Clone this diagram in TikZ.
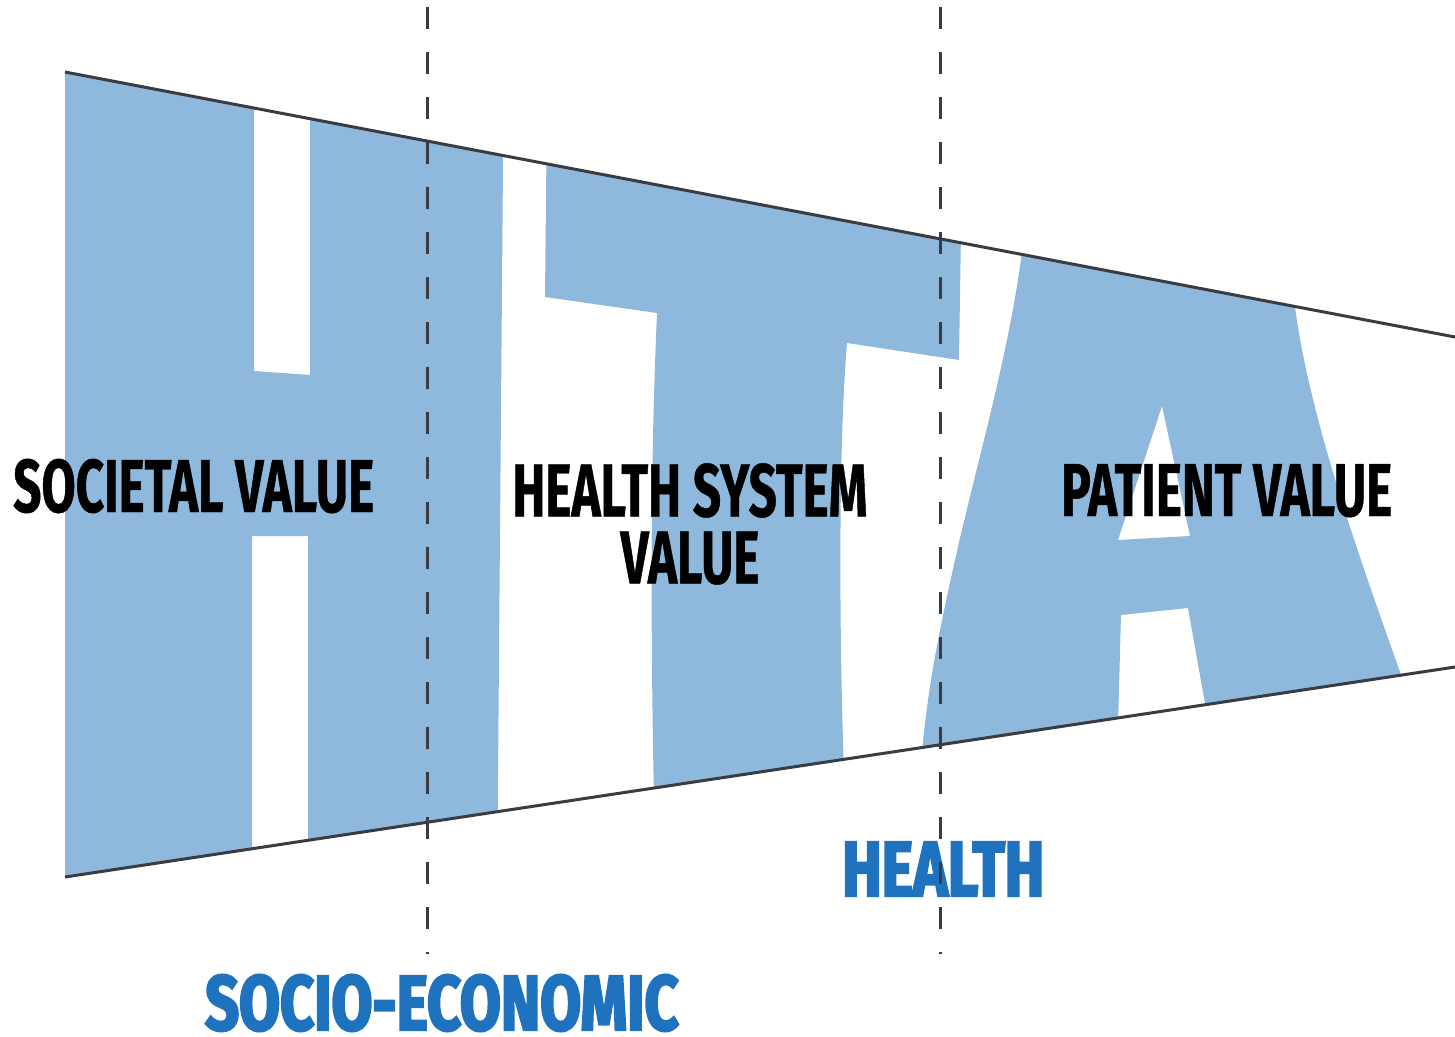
\documentclass[tikz,border=0pt]{standalone}
\usepackage{fontspec}
\usepackage{xcolor}
\newfontfamily\valuefont[FakeStretch=0.66,FakeBold=0.6]{Fira Sans}
\newfontfamily\sectorfont[FakeStretch=0.76,FakeBold=3]{Fira Sans}
\definecolor{letterblue}{RGB}{142,185,220}
\definecolor{sectorblue}{RGB}{31,115,190}
\definecolor{edgegray}{RGB}{58,60,66}

\begin{document}
\begin{tikzpicture}[x=1pt, y=-1pt,
    boundary/.style={draw=edgegray, line width=3pt},
    divider/.style={draw=edgegray, line width=3pt, dash pattern=on 22pt off 23pt},
    lettershape/.style={fill=letterblue, even odd rule}]
  % Label styles
  \tikzstyle{valuelabel} = [inner sep=0pt, text=black, align=center,
    font=\valuefont\bfseries\fontsize{75}{67}\selectfont]
  \tikzstyle{sectorlabel} = [inner sep=0pt, text=sectorblue,
    font=\sectorfont\bfseries\fontsize{78}{86}\selectfont]

  \useasboundingbox (0,0) rectangle (1455,1036);

  % Corners of the funnel
  \coordinate (topL) at (65,72);
  \coordinate (topR) at (1455,337);
  \coordinate (botL) at (65,877);
  \coordinate (botR) at (1455,667);

  % The big letters, cut by the funnel
  \begin{scope}
    \clip (topL) -- (topR) -- (botR) -- (botL) -- cycle;
    % H
    \fill[lettershape] (65,40) -- (254,40) -- (254,371) -- (310,375) -- (310,40)
      -- (504,40) -- (497,900) -- (308,900) -- (308,536) -- (252,536)
      -- (252,900) -- (65,900) -- cycle;
    % T
    \fill[lettershape] (547,100) -- (963,100) -- (959,360) -- (847,343)
      .. controls (838,450) and (839,650) .. (845,800) -- (654,800)
      .. controls (650,600) and (651,450) .. (657,313) -- (545,297) -- cycle;
    % A
    \fill[lettershape] (1025,200) -- (1022,251)
      .. controls (1010,350) and (975,470) .. (955,560)
      .. controls (935,650) and (925,700) .. (918,800)
      -- (1116,800) -- (1121,615) -- (1188,608) -- (1215,760) -- (1420,760)
      -- (1410,700) .. controls (1360,560) and (1310,420) .. (1295,307)
      -- (1291,250) -- cycle
      (1162,406) -- (1118,540) -- (1190,536) -- cycle;
  \end{scope}

  % Funnel edges
  \draw[boundary] (topL) -- (topR);
  \draw[boundary] (botL) -- (botR);

  % Value labels
  \node[valuelabel, anchor=base west] (societal) at (13,512) {SOCIETAL VALUE};
  \node[valuelabel, anchor=north] (system) at (690,463) {HEALTH SYSTEM\\VALUE};
  \node[valuelabel, anchor=base west] (patient) at (1061,516) {PATIENT VALUE};

  % Sector labels
  \node[sectorlabel, anchor=base west] (health) at (842,896) {HEALTH};
  \node[sectorlabel, anchor=base west] (socio) at (205,1030) {SOCIO-ECONOMIC};

  % Dashed dividers
  \coordinate (divAtop) at (427,7);
  \coordinate (divAbot) at (427,954);
  \coordinate (divBtop) at (940,7);
  \coordinate (divBbot) at (940,954);
  \draw[divider] (divAtop) -- (divAbot);
  \draw[divider] (divBtop) -- (divBbot);
\end{tikzpicture}
\end{document}
